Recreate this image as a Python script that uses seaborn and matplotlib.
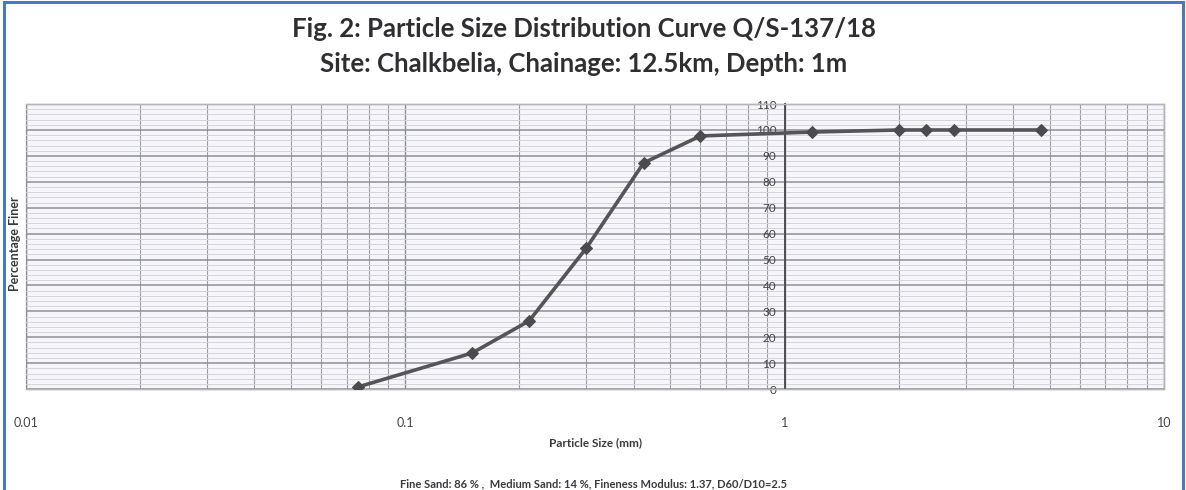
#!/usr/bin/env python3
"""
Particle size distribution curve (sieve analysis) - Q/S-137/18
Recreated with seaborn / matplotlib
"""

import pandas as pd
import matplotlib
matplotlib.use("Agg")
import matplotlib.pyplot as plt
import matplotlib.ticker as mticker
from matplotlib.patches import Rectangle
import seaborn as sns

# Sieve sizes (mm) and percentage finer
sieve_size_mm = [0.075, 0.15, 0.212, 0.3, 0.425, 0.6, 1.18, 2.0, 2.36, 2.8, 4.75]
percent_finer = [0.8, 13.9, 26.3, 54.4, 87.3, 97.7, 99.2, 100, 100, 100, 100]

x_tick_values = [0.01, 0.1, 1, 10]
x_tick_labels = ["0.01", "0.1", "1", "10"]
y_tick_values = [0, 10, 20, 30, 40, 50, 60, 70, 80, 90, 100, 110]

title_text = "Fig. 2: Particle Size Distribution Curve Q/S-137/18"
subtitle_text = "Site: Chalkbelia, Chainage: 12.5km, Depth: 1m"
x_label = "Particle Size (mm)"
y_label = "Percentage Finer"
footnote_text = "Fine Sand: 86 % ,  Medium Sand: 14 %, Fineness Modulus: 1.37, D60/D10=2.5"


def build_chart():
    sns.set_style("white")
    plt.rcParams["font.family"] = ["Lato", "DejaVu Sans"]

    df = pd.DataFrame({"size": sieve_size_mm, "finer": percent_finer})

    fig = plt.figure(figsize=(11.86, 4.90), dpi=100)
    fig.patch.set_facecolor("white")
    ax = fig.add_axes([0.0219, 0.206, 0.9595, 0.5816])
    ax.set_facecolor("#f6f5fa")

    ax.set_xscale("log")
    ax.set_xlim(0.01, 10)
    ax.set_ylim(0, 110)

    # grid like Excel log chart
    ax.xaxis.set_major_locator(mticker.FixedLocator(x_tick_values))
    ax.xaxis.set_minor_locator(mticker.LogLocator(base=10, subs=range(2, 10)))
    ax.yaxis.set_major_locator(mticker.FixedLocator(y_tick_values))
    ax.yaxis.set_minor_locator(mticker.MultipleLocator(2))
    ax.grid(which="major", axis="y", color="#8e8e98", lw=1.1)
    ax.grid(which="minor", axis="y", color="#d4d4dc", lw=0.7)
    ax.grid(which="major", axis="x", color="#8e8e98", lw=1.0)
    ax.grid(which="minor", axis="x", color="#9e9ea8", lw=0.8)
    ax.set_axisbelow(True)

    sns.lineplot(data=df, x="size", y="finer", ax=ax, color="#555459",
                 lw=2.6, marker="D", markersize=6, markeredgecolor="#4a4a4f",
                 markerfacecolor="#4a4a4f", zorder=3)

    # vertical axis crosses at 1 mm
    ax.spines["left"].set_position(("data", 1))
    ax.spines["left"].set_color("#4d4d52")
    ax.spines["left"].set_linewidth(1.4)
    for side in ["top", "right", "bottom"]:
        ax.spines[side].set_color("#b4b4bc")
        ax.spines[side].set_linewidth(1.0)
    ax.patch.set_edgecolor("#b4b4bc")
    ax.patch.set_linewidth(1.0)

    ax.set_xticklabels(x_tick_labels)
    ax.tick_params(axis="x", which="both", length=0, pad=20, labelsize=9,
                   labelcolor="#444448")
    ax.tick_params(axis="y", which="major", length=4, width=1, color="#4d4d52",
                   direction="out", pad=2, labelsize=8.5, labelcolor="#444448")
    ax.tick_params(axis="y", which="minor", length=0)

    ax.set_xlabel("")
    ax.set_ylabel("")

    fig.text(0.0125, 0.503, y_label, rotation=90, ha="center", va="center",
             fontsize=9, fontweight="bold", color="#3a3a3e")
    fig.text(0.502, 0.096, x_label, ha="center", va="center",
             fontsize=8.5, fontweight="bold", color="#3a3a3e")
    fig.text(0.50, 0.012, footnote_text, ha="center", va="center",
             fontsize=8, fontweight="bold", color="#3a3a3e")

    fig.text(0.492, 0.941, title_text, ha="center", va="center",
             fontsize=18.5, fontweight="bold", color="#2f2f33")
    fig.text(0.492, 0.870, subtitle_text, ha="center", va="center",
             fontsize=18.5, fontweight="bold", color="#2f2f33")

    # blue page frame
    fig.add_artist(Rectangle((0.0034, -0.05), 0.9941, 1.046, transform=fig.transFigure,
                             fill=False, edgecolor="#4a78c8", lw=2.2))

    fig.savefig("out.png", dpi=100, facecolor="white")
    plt.close(fig)


def main():
    build_chart()


if __name__ == "__main__":
    main()
